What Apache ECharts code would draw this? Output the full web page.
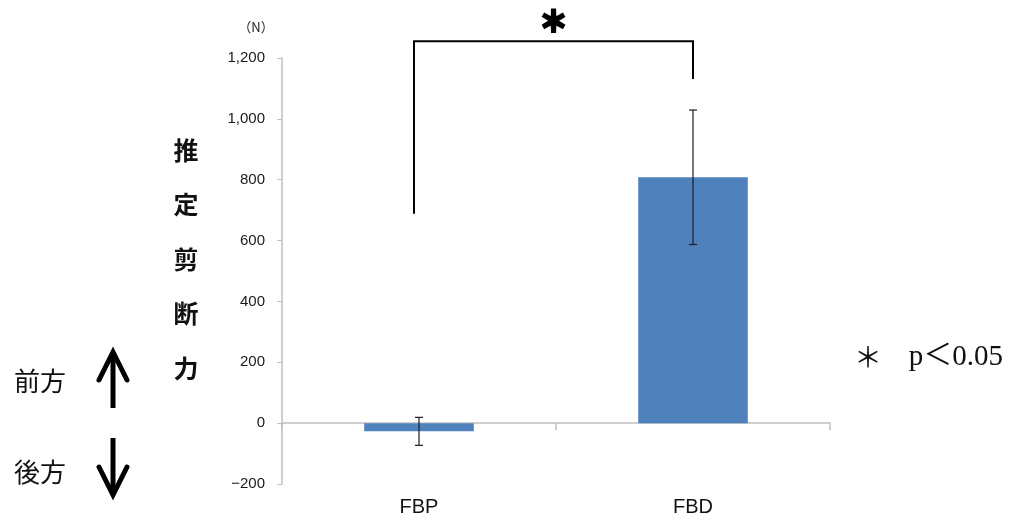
<!DOCTYPE html>
<html>
<head>
<meta charset="utf-8">
<script src="https://cdn.jsdelivr.net/npm/echarts@6/dist/echarts.min.js"></script>
<style>
  html, body { margin: 0; padding: 0; background: #fff; }
  #chart { width: 1010px; height: 523px; }
</style>
</head>
<body>
<div id="chart"></div>
<script>
// Estimated shear force per condition (N): mean and standard deviation
const categories = ['FBP', 'FBD'];
const means = [-27, 808];
const errors = [46, 221];

// Significance bracket, expressed in axis units (N)
const bracketTopValue = 1255;
const bracketLeftEndValue = 688;
const bracketRightEndValue = 1131;

const SANS = '"Liberation Sans", Arial, sans-serif';
const CJK = '"Noto Sans CJK JP", sans-serif';
const SERIF = '"Liberation Serif", "Noto Sans CJK JP", serif';

const chart = echarts.init(document.getElementById('chart'));

const errorData = categories.map((c, i) => [i, means[i], errors[i]]);

chart.setOption({
  animation: false,
  grid: { left: 282, right: 180, top: 58, bottom: 39, containLabel: false },
  xAxis: [
    {
      type: 'category',
      data: categories,
      position: 'bottom',
      axisLine: { show: true, onZero: true, lineStyle: { color: '#bfbfbf', width: 1.5 } },
      axisTick: { show: true, length: 7, lineStyle: { color: '#bfbfbf', width: 1.5 } },
      axisLabel: { show: false },
      splitLine: { show: false }
    },
    {
      type: 'category',
      data: categories,
      position: 'bottom',
      axisLine: { show: false, onZero: false },
      axisTick: { show: false },
      axisLabel: { show: true, margin: 13, fontSize: 20, color: '#111', fontFamily: SANS },
      splitLine: { show: false }
    }
  ],
  yAxis: {
    type: 'value',
    min: -200,
    max: 1200,
    interval: 200,
    axisLine: { show: true, lineStyle: { color: '#bfbfbf', width: 1.5 } },
    axisTick: { show: true, length: 5, lineStyle: { color: '#bfbfbf', width: 1 } },
    splitLine: { show: false },
    axisLabel: {
      margin: 17,
      fontSize: 15,
      color: '#1a1a1a',
      fontFamily: SANS,
      formatter: v => (v < 0 ? '\u2212' : '') + Math.abs(v).toLocaleString('en-US')
    }
  },
  series: [
    {
      type: 'bar',
      xAxisIndex: 0,
      data: means,
      barWidth: '40%',
      itemStyle: { color: '#4f81bd' },
      z: 2
    },
    {
      type: 'custom',
      xAxisIndex: 0,
      data: errorData,
      encode: { x: 0, y: 1 },
      z: 5,
      renderItem: (params, api) => {
        const i = api.value(0);
        const m = api.value(1);
        const e = api.value(2);
        const top = api.coord([i, m + e]);
        const bot = api.coord([i, m - e]);
        const cap = 4;
        const style = { stroke: '#1c1c2c', lineWidth: 1.2 };
        return {
          type: 'group',
          children: [
            { type: 'line', shape: { x1: top[0], y1: top[1], x2: bot[0], y2: bot[1] }, style },
            { type: 'line', shape: { x1: top[0] - cap, y1: top[1], x2: top[0] + cap, y2: top[1] }, style },
            { type: 'line', shape: { x1: bot[0] - cap, y1: bot[1], x2: bot[0] + cap, y2: bot[1] }, style }
          ]
        };
      }
    }
  ]
});

// Annotations: unit, vertical axis title, direction arrows, significance bracket
const px = (i, v) => chart.convertToPixel({ xAxisIndex: 0, yAxisIndex: 0 }, [i, v]);
const leftTop = px(0, bracketTopValue);
const leftEnd = px(0, bracketLeftEndValue);
const rightTop = px(1, bracketTopValue);
const rightEnd = px(1, bracketRightEndValue);
const lx = leftTop[0] - 5;
const rx = rightTop[0];
const bracketStyle = { stroke: '#000', lineWidth: 2, fill: null };

const titleChars = ['推', '定', '剪', '断', '力'];

const graphics = [
  {
    type: 'polyline',
    shape: { points: [[lx, leftEnd[1]], [lx, leftTop[1]], [rx, rightTop[1]], [rx, rightEnd[1]]] },
    style: bracketStyle,
    silent: true
  },
  {
    type: 'text',
    style: { text: '＊', x: (lx + rx) / 2, y: 21, align: 'center', verticalAlign: 'middle',
             font: 'bold 28px ' + CJK, fill: '#000', stroke: '#000', lineWidth: 3 }
  },
  {
    type: 'text',
    style: { text: '（N）', x: 256, y: 27, align: 'center', verticalAlign: 'middle',
             font: '13px ' + CJK, fill: '#222' }
  },
  {
    type: 'text',
    style: { text: '＊', x: 868, y: 357, align: 'center', verticalAlign: 'middle',
             font: '28px ' + CJK, fill: '#111' }
  },
  {
    type: 'text',
    style: { text: 'p＜0.05', x: 1003, y: 357, align: 'right', verticalAlign: 'middle',
             font: '29px ' + SERIF, fill: '#111' }
  },
  {
    type: 'text',
    style: { text: '前方', x: 40, y: 381, align: 'center', verticalAlign: 'middle',
             font: '26px ' + CJK, fill: '#111' }
  },
  {
    type: 'text',
    style: { text: '後方', x: 40, y: 472, align: 'center', verticalAlign: 'middle',
             font: '26px ' + CJK, fill: '#111' }
  },
  // up arrow
  { type: 'polyline', shape: { points: [[113, 408], [113, 352]] },
    style: { stroke: '#000', lineWidth: 5, fill: null } },
  { type: 'polyline', shape: { points: [[99, 380], [113, 352], [127, 380]] },
    style: { stroke: '#000', lineWidth: 5, fill: null, lineJoin: 'miter', lineCap: 'round' } },
  // down arrow
  { type: 'polyline', shape: { points: [[113, 438], [113, 495]] },
    style: { stroke: '#000', lineWidth: 5, fill: null } },
  { type: 'polyline', shape: { points: [[99, 467], [113, 495], [127, 467]] },
    style: { stroke: '#000', lineWidth: 5, fill: null, lineJoin: 'miter', lineCap: 'round' } }
];

titleChars.forEach((ch, k) => {
  graphics.push({
    type: 'text',
    style: { text: ch, x: 186, y: 150 + k * 54.5, align: 'center', verticalAlign: 'middle',
             font: 'bold 25px ' + CJK, fill: '#111' }
  });
});

chart.setOption({ graphic: graphics });
</script>
</body>
</html>
